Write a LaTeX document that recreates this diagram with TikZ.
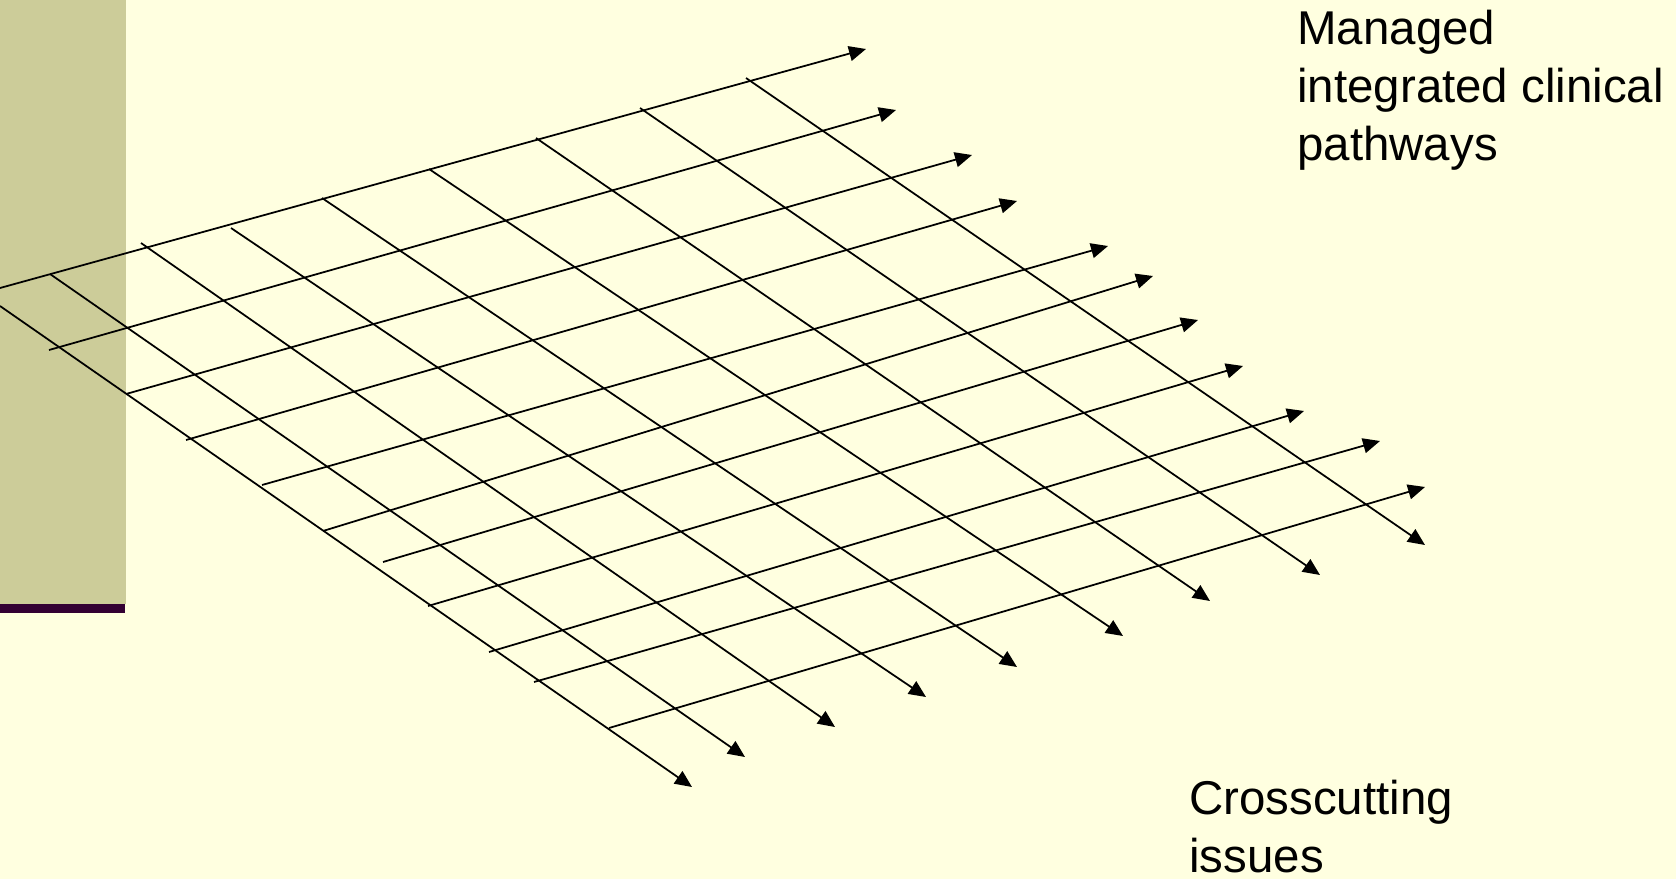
\documentclass[tikz,border=0pt]{standalone}
\usepackage{fontspec}
\setmainfont{Liberation Sans}
\usetikzlibrary{arrows.meta}
\definecolor{CpCream}{RGB}{255,255,224}
\definecolor{CpOlive}{RGB}{204,204,153}
\definecolor{CpPlum}{RGB}{51,0,51}
\tikzset{
  cp/arrow/.style={-{Triangle[length=0.34cm,width=0.3cm]}, line width=1pt, draw=black},
  cp/label/.style={anchor=base west, align=left, inner sep=0pt, text=black,
    font=\fontsize{27pt}{33pt}\selectfont}
}

\begin{document}
\begin{tikzpicture}[x=0.02cm,y=-0.02cm]
  \useasboundingbox (0,0) rectangle (1676,879);
  \fill[CpCream] (0,0) rectangle (1676,879);
  \fill[CpOlive] (0,0) rectangle (126,604);
  \fill[CpPlum] (0,604) rectangle (125,613);
  % pathways, running up to the right
  \foreach \n/\sx/\sy/\ex/\ey in {1/0/288/866/49, 2/49/350/896/110, 3/126/394/972/155,
      4/186/440/1017/201, 5/262/485/1108/246, 6/323/531/1153/276, 7/383/562/1198/320,
      8/428/606/1243/366, 9/489/652/1304/411, 10/534/682/1380/441, 11/609/728/1425/487} {
    \coordinate (path\n s) at (\sx,\sy);
    \coordinate (path\n e) at (\ex,\ey);
    \draw[cp/arrow] (path\n s) -- (path\n e);
  }
  % crosscutting issues, running down to the right
  \foreach \n/\sx/\sy/\ex/\ey in {1/0/306/692/787, 2/50/274/745/757, 3/141/243/835/727,
      4/231/228/926/697, 5/322/198/1017/667, 6/429/169/1123/636, 7/536/138/1210/601,
      8/640/108/1320/575, 9/746/78/1425/545} {
    \coordinate (issue\n s) at (\sx,\sy);
    \coordinate (issue\n e) at (\ex,\ey);
    \draw[cp/arrow] (issue\n s) -- (issue\n e);
  }
  % base anchor sits on the last line
  \node[cp/label] (pathways) at (1297,160) {Managed\\integrated clinical\\pathways};
  \node[cp/label] (issues) at (1189,872) {Crosscutting\\issues};
\end{tikzpicture}
\end{document}
